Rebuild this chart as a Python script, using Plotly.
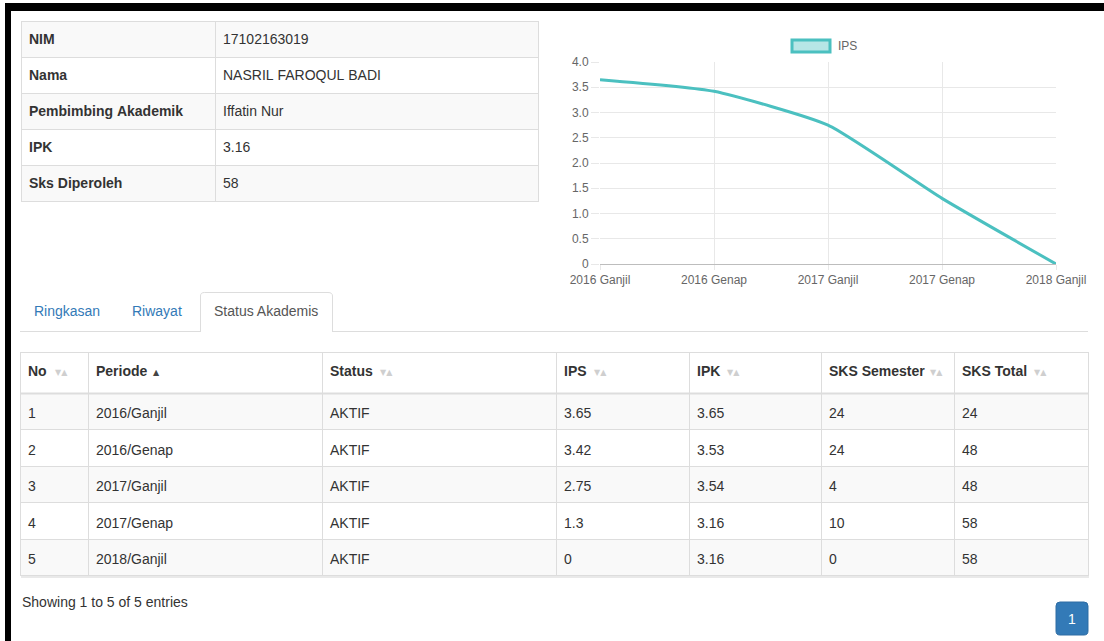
import plotly.graph_objects as go

W, H = 1104, 641
FONT = "Liberation Sans, Arial, Helvetica, sans-serif"
NB = "\u00a0"

# ---------------- data ----------------
info_labels = ["NIM", "Nama", "Pembimbing Akademik", "IPK", "Sks Diperoleh"]
info_values = ["17102163019", "NASRIL FAROQUL BADI", "Iffatin Nur", "3.16", "58"]

semesters = ["2016 Ganjil", "2016 Genap", "2017 Ganjil", "2017 Genap", "2018 Ganjil"]
ips = [3.65, 3.42, 2.75, 1.3, 0]
y_ticks = [0, 0.5, 1.0, 1.5, 2.0, 2.5, 3.0, 3.5, 4.0]
y_tick_labels = ["0", "0.5", "1.0", "1.5", "2.0", "2.5", "3.0", "3.5", "4.0"]

tabs = ["Ringkasan", "Riwayat", "Status Akademis"]

col_headers = ["No", "Periode", "Status", "IPS", "IPK", "SKS Semester", "SKS Total"]
no = [1, 2, 3, 4, 5]
periode = ["2016/Ganjil", "2016/Genap", "2017/Ganjil", "2017/Genap", "2018/Ganjil"]
status = ["AKTIF", "AKTIF", "AKTIF", "AKTIF", "AKTIF"]
ips_col = ["3.65", "3.42", "2.75", "1.3", "0"]
ipk_col = ["3.65", "3.53", "3.54", "3.16", "3.16"]
sks_semester = [24, 24, 4, 10, 0]
sks_total = [24, 48, 48, 58, 58]
sorted_column = "Periode"
footer_text = "Showing 1 to 5 of 5 entries"
page_label = "1"

# layout-only: x pixel where each header's sort icon starts
icon_x = [53, 151, 378, 592, 725, 928, 1032]


def xp(px):
    return px / W


def yp(py):
    return 1 - py / H


def plain(s):
    return "<span>%s</span>" % str(s).replace(" ", NB)


def bold(s):
    return "<b>%s</b>" % str(s).replace(" ", NB)


fig = go.Figure()
LINE = "#dddddd"
TXT = dict(family=FONT, size=14, color="#333333")
CLEAR = "rgba(0,0,0,0)"


def add_table(x0, x1, top, widths, head_vals, head_fill, head_h, cell_cols, cell_fill, cell_h, dy_head, dy_cell):
    # grid: fills and borders
    fig.add_trace(go.Table(
        domain=dict(x=[xp(x0), xp(x1)], y=[0, yp(top)]),
        columnwidth=widths,
        header=dict(values=[""] * len(widths), fill_color=head_fill, line=dict(color=LINE, width=1),
                    height=head_h, font=TXT),
        cells=dict(values=[[""] * len(c) for c in cell_cols], fill_color=cell_fill,
                   line=dict(color=LINE, width=1), height=cell_h, font=TXT),
    ))
    # text layer
    fig.add_trace(go.Table(
        domain=dict(x=[xp(x0), xp(x1)], y=[0, yp(top + dy_head)]),
        columnwidth=widths,
        header=dict(values=head_vals, fill_color=CLEAR, line=dict(color=CLEAR, width=0),
                    align="left", height=head_h - (dy_head - dy_cell), font=TXT),
        cells=dict(values=cell_cols, fill_color=CLEAR, line=dict(color=CLEAR, width=0),
                   align="left", height=cell_h, font=TXT),
    ))


# ---------------- info table ----------------
stripe = ["#f9f9f9" if i % 2 == 0 else "#ffffff" for i in range(len(info_labels))]
add_table(21, 538, 21, [194, 323],
          [bold(info_labels[0]), plain(info_values[0])], stripe[0], 36,
          [[bold(s) for s in info_labels[1:]], [plain(s) for s in info_values[1:]]],
          [stripe[1:], stripe[1:]], 36, 2, 2)

# ---------------- data table ----------------
# soft shadow under the table
fig.add_shape(type="rect", xref="paper", yref="paper", x0=xp(21), x1=xp(1089), y0=yp(578), y1=yp(353),
              fillcolor="#e9e9e9", line_width=0, layer="below")
hdr = [bold(h) for h in col_headers]
cols = [[plain(v) for v in c] for c in [no, periode, status, ips_col, ipk_col, sks_semester, sks_total]]
row_fill = ["#f9f9f9" if i % 2 == 0 else "#ffffff" for i in range(len(no))]
add_table(20, 1088, 352, [68, 234, 234, 133, 132, 133, 134],
          hdr, "#ffffff", 41, cols, [row_fill] * len(cols), 36.5, 3, 4)

# ---------------- line chart ----------------
fig.add_trace(go.Scatter(
    x=semesters, y=ips, mode="lines", name="IPS",
    line=dict(color="rgb(75,192,192)", width=3, shape="spline", smoothing=0.5),
    cliponaxis=False, showlegend=False,
))

fig.update_layout(
    width=W, height=H, margin=dict(l=0, r=0, t=0, b=0, autoexpand=False),
    paper_bgcolor="white", plot_bgcolor="white", showlegend=False,
    font=dict(family=FONT, size=12, color="#666666"),
    xaxis=dict(
        domain=[xp(600), xp(1056)], type="category", categoryorder="array", automargin=False,
        categoryarray=semesters, range=[0, 4], showgrid=True, gridcolor="#e8e8e8",
        ticks="outside", ticklen=5, tickcolor="#e8e8e8", zeroline=False, showline=False,
        tickfont=dict(family=FONT, size=12, color="#666666"), fixedrange=True,
    ),
    yaxis=dict(
        domain=[yp(264), yp(62)], range=[0, 4], tickvals=y_ticks, ticktext=y_tick_labels,
        automargin=False,
        showgrid=True, gridcolor="#e8e8e8", ticks="outside", ticklen=8, tickcolor="#e8e8e8",
        zeroline=True, zerolinecolor="#bdbdbd", zerolinewidth=1, showline=False,
        tickfont=dict(family=FONT, size=12, color="#666666"), fixedrange=True,
    ),
)

shapes = list(fig.layout.shapes)
annotations = []

# black frame
shapes.append(dict(type="rect", xref="paper", yref="paper", x0=xp(5), x1=xp(11), y0=0, y1=yp(3),
                   fillcolor="black", line_width=0, layer="above"))
shapes.append(dict(type="rect", xref="paper", yref="paper", x0=xp(5), x1=1, y0=yp(11), y1=yp(3),
                   fillcolor="black", line_width=0, layer="above"))

# chart legend
shapes.append(dict(type="rect", xref="paper", yref="paper", x0=xp(792), x1=xp(830), y0=yp(52), y1=yp(40),
                   fillcolor="rgba(75,192,192,0.4)", line=dict(color="rgb(75,192,192)", width=3)))
annotations.append(dict(text="IPS", xref="paper", yref="paper", x=xp(836), y=yp(46), xanchor="left",
                        yanchor="middle", showarrow=False, font=dict(family=FONT, size=12, color="#666666")))

# tabs
shapes.append(dict(type="line", xref="paper", yref="paper", x0=xp(20), x1=xp(1088), y0=yp(331.5), y1=yp(331.5),
                   line=dict(color="#dddddd", width=1)))
shapes.append(dict(type="path", xref="paper", yref="paper",
                   path="M %f,%f L %f,%f Q %f,%f %f,%f L %f,%f Q %f,%f %f,%f L %f,%f" % (
                       xp(200.5), yp(332), xp(200.5), yp(296), xp(200.5), yp(292.5), xp(204.5), yp(292.5),
                       xp(328), yp(292.5), xp(332.5), yp(292.5), xp(332.5), yp(296), xp(332.5), yp(332)),
                   fillcolor="white", line=dict(color="#dddddd", width=1)))
shapes.append(dict(type="line", xref="paper", yref="paper", x0=xp(201), x1=xp(332), y0=yp(332), y1=yp(332),
                   line=dict(color="white", width=2)))
tab_x = [67, 157, 266]
for t, x in zip(tabs, tab_x):
    annotations.append(dict(text=t, xref="paper", yref="paper", x=xp(x), y=yp(311), xanchor="center",
                            yanchor="middle", showarrow=False,
                            font=dict(family=FONT, size=14, color="#555555" if t == "Status Akademis" else "#337ab7")))

# header bottom thick border
shapes.append(dict(type="line", xref="paper", yref="paper", x0=xp(20), x1=xp(1088), y0=yp(393.5), y1=yp(393.5),
                   line=dict(color="#dddddd", width=2), layer="above"))

# sort icons in header
for h, x in zip(col_headers, icon_x):
    if h == sorted_column:
        txt, col = "▲", "#444444"
    else:
        txt, col = "▼▲", "#cfcfcf"
    annotations.append(dict(text=txt, xref="paper", yref="paper", x=xp(x), y=yp(372), xanchor="left",
                            yanchor="middle", showarrow=False,
                            font=dict(family="DejaVu Sans", size=8, color=col)))

# footer
annotations.append(dict(text=footer_text, xref="paper", yref="paper", x=xp(20), y=yp(602), xanchor="left",
                        yanchor="middle", showarrow=False, font=dict(family=FONT, size=14, color="#333333")))
shapes.append(dict(type="path", xref="paper", yref="paper",
                   path="M %f,%f L %f,%f Q %f,%f %f,%f L %f,%f Q %f,%f %f,%f L %f,%f Q %f,%f %f,%f L %f,%f Q %f,%f %f,%f Z" % (
                       xp(1060), yp(602), xp(1084), yp(602), xp(1088), yp(602), xp(1088), yp(606),
                       xp(1088), yp(631), xp(1088), yp(635), xp(1084), yp(635),
                       xp(1060), yp(635), xp(1056), yp(635), xp(1056), yp(631),
                       xp(1056), yp(606), xp(1056), yp(602), xp(1060), yp(602)),
                   fillcolor="#337ab7", line=dict(color="#2e6da4", width=1)))
annotations.append(dict(text=page_label, xref="paper", yref="paper", x=xp(1072), y=yp(618.5), xanchor="center",
                        yanchor="middle", showarrow=False, font=dict(family=FONT, size=14, color="white")))

fig.update_layout(shapes=shapes, annotations=annotations)
fig.write_html("out.html", config=dict(displayModeBar=False),
               post_script="document.body.style.margin='0';document.body.style.overflow='hidden';")
